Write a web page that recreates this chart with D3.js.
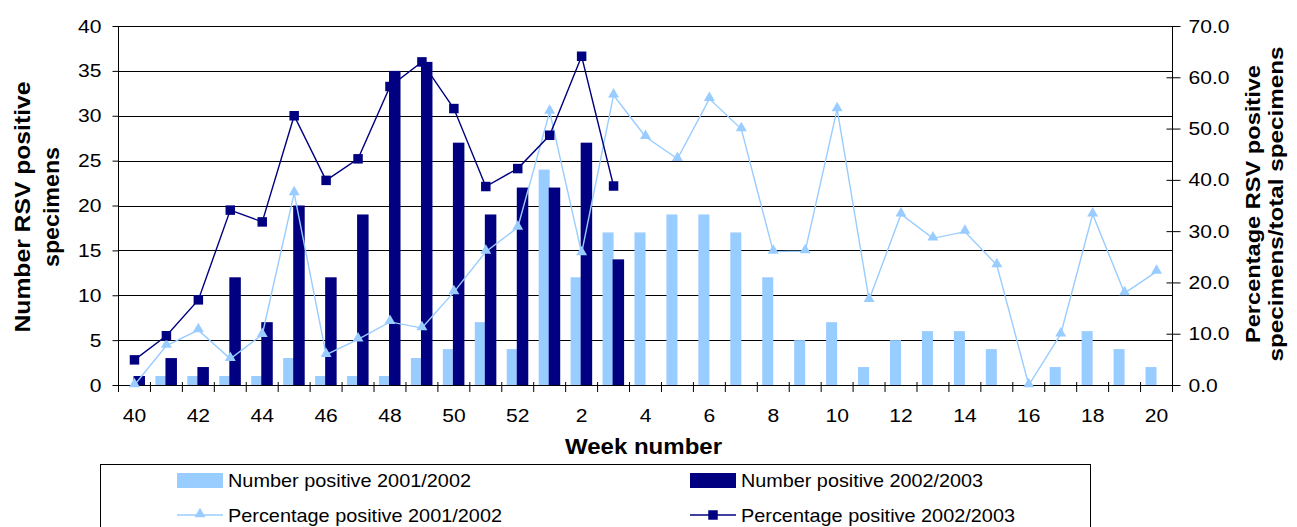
<!DOCTYPE html>
<html><head><meta charset="utf-8">
<script src="https://cdn.jsdelivr.net/npm/d3@7"></script>
<style>body{margin:0;background:#fff}svg{display:block;font-family:"Liberation Sans",Arial,sans-serif}</style>
</head><body>
<svg id="c" width="1297" height="527"></svg>
<script>
const weeks = [40,41,42,43,44,45,46,47,48,49,50,51,52,1,2,3,4,5,6,7,8,9,10,11,12,13,14,15,16,17,18,19,20];
const tickLabels = ["40","42","44","46","48","50","52","2","4","6","8","10","12","14","16","18","20"];
const numPos0102 = [0,1,1,1,1,3,1,1,1,3,4,7,4,24,12,17,17,19,19,17,12,5,7,2,5,6,6,4,0,2,6,4,2];
const numPos0203 = [1,3,2,12,7,20,12,19,35,36,27,19,22,22,27,14];
const pct0102 = [0,7.7,10.7,5.1,9.8,37.4,5.9,8.9,12.3,11.1,18.1,26.0,30.7,53.3,25.7,56.5,48.4,44.1,55.8,49.9,26.0,26.1,53.8,16.6,33.3,28.6,29.9,23.4,0,9.9,33.3,17.9,22.1];
const pct0203 = [4.9,9.6,16.6,34.1,31.8,52.5,39.9,44.1,58.2,63.0,53.9,38.7,42.2,48.7,64.1,38.8];
const leftTicks = [0,5,10,15,20,25,30,35,40];
const rightTicks = [0,10,20,30,40,50,60,70];

const LIGHT = "#99CCFF", DARK = "#000080";
const L = 118.5, R = 1172.5, T = 26, B = 385;
const svg = d3.select("#c");
const x = d3.scaleBand().domain(d3.range(weeks.length)).range([L, R]).padding(0);
const yL = d3.scaleLinear().domain([0, 40]).range([B, T]);
const yR = d3.scaleLinear().domain([0, 70]).range([B, T]);
const bw = x.bandwidth();
const cx = i => x(i) + bw / 2;

function stretch(sel, k) {
  sel.each(function () {
    const n = this.getComputedTextLength();
    d3.select(this).attr("textLength", n * k).attr("lengthAdjust", "spacingAndGlyphs");
  });
}
function fit(sel, len) {
  sel.attr("textLength", len).attr("lengthAdjust", "spacingAndGlyphs");
}

// gridlines
svg.append("g").selectAll("line").data(leftTicks.filter(d => d > 0)).join("line")
  .attr("x1", L).attr("x2", R).attr("y1", d => Math.round(yL(d)) + 0.5).attr("y2", d => Math.round(yL(d)) + 0.5)
  .attr("stroke", "#000").attr("stroke-width", 1);

// bars
svg.append("g").selectAll("rect").data(numPos0102).join("rect")
  .attr("x", (d, i) => cx(i) - bw * 0.345).attr("width", bw * 0.345)
  .attr("y", d => yL(d)).attr("height", d => B - yL(d)).attr("fill", LIGHT);
svg.append("g").selectAll("rect").data(numPos0203).join("rect")
  .attr("x", (d, i) => cx(i) - bw * 0.03).attr("width", bw * 0.36)
  .attr("y", d => yL(d)).attr("height", d => B - yL(d)).attr("fill", DARK);

// axes
const axL = svg.append("g").attr("transform", `translate(${L},0)`)
  .call(d3.axisLeft(yL).tickValues(leftTicks).tickSize(6).tickPadding(11).tickFormat(d3.format("d")));
const axR = svg.append("g").attr("transform", `translate(${R},0)`)
  .call(d3.axisRight(yR).tickValues(rightTicks).tickSize(8).tickPadding(8).tickFormat(d3.format(".1f")));
axR.selectAll(".tick line").attr("x1", -6);
const bounds = d3.range(weeks.length + 1);
const axB = svg.append("g").attr("transform", `translate(0,${B})`)
  .call(d3.axisBottom(x).tickValues(d3.range(0, weeks.length, 2)).tickSize(0).tickPadding(26)
    .tickFormat((d, i) => tickLabels[i]));
svg.append("g").selectAll("line").data(bounds).join("line")
  .attr("x1", d => L + d * bw).attr("x2", d => L + d * bw).attr("y1", B - 3).attr("y2", B + 7)
  .attr("stroke", "#000");
[axL, axR, axB].forEach(a => {
  a.selectAll(".domain").remove();
  a.selectAll("text").attr("font-size", 18).attr("fill", "#000").attr("font-family", '"Liberation Sans",Arial,sans-serif');
  a.selectAll(".tick line").attr("stroke", "#000");
});
axB.selectAll("text").attr("dy", null).attr("y", 31).attr("dominant-baseline", "central");
axL.selectAll("text").attr("dy", null).attr("dominant-baseline", "central");
axR.selectAll("text").attr("dy", null).attr("dominant-baseline", "central");
[axL, axR, axB].forEach(a => stretch(a.selectAll("text"), 1.17));
svg.append("line").attr("x1", L).attr("x2", L).attr("y1", T).attr("y2", B).attr("stroke", "#000");
svg.append("line").attr("x1", R).attr("x2", R).attr("y1", T).attr("y2", B).attr("stroke", "#000");
svg.append("line").attr("x1", L).attr("x2", R).attr("y1", B + 0.5).attr("y2", B + 0.5).attr("stroke", "#000");

// lines
const tri = d3.symbol().type(d3.symbolTriangle).size(52);
const sq = d3.symbol().type(d3.symbolSquare).size(90);
const ln = d3.line().x((d, i) => cx(i)).y(d => yR(d));
svg.append("path").attr("d", ln(pct0102)).attr("fill", "none").attr("stroke", LIGHT).attr("stroke-width", 1.4);
svg.append("g").selectAll("path").data(pct0102).join("path")
  .attr("d", tri).attr("transform", (d, i) => `translate(${cx(i)},${yR(d) - 1})`).attr("fill", LIGHT);
svg.append("path").attr("d", ln(pct0203)).attr("fill", "none").attr("stroke", DARK).attr("stroke-width", 1.4);
svg.append("g").selectAll("path").data(pct0203).join("path")
  .attr("d", sq).attr("transform", (d, i) => `translate(${cx(i)},${yR(d)})`).attr("fill", DARK);

// axis titles
fit(svg.append("text").attr("x", 643.5).attr("y", 454).attr("text-anchor", "middle")
  .attr("font-size", 22).attr("font-weight", "bold").text("Week number"), 157);
const lt = svg.append("text").attr("transform", "translate(0,207) rotate(-90)").attr("text-anchor", "middle")
  .attr("font-size", 22.5).attr("font-weight", "bold");
fit(lt.append("tspan").attr("x", 0).attr("y", 29.5).text("Number RSV positive"), 251);
fit(lt.append("tspan").attr("x", 0).attr("y", 59).text("specimens"), 120);
const rt = svg.append("text").attr("transform", "translate(0,204) rotate(-90)").attr("text-anchor", "middle")
  .attr("font-size", 21).attr("font-weight", "bold");
fit(rt.append("tspan").attr("x", 0).attr("y", 1260).text("Percentage RSV positive"), 278);
fit(rt.append("tspan").attr("x", 0).attr("y", 1283).text("specimens/total specimens"), 315);

// legend
const leg = svg.append("g");
leg.append("rect").attr("x", 100.5).attr("y", 464.5).attr("width", 990).attr("height", 80)
  .attr("fill", "#fff").attr("stroke", "#000");
const items = [
  {label: "Number positive 2001/2002", kind: "bar", color: LIGHT, x: 177, y: 480, w: 243},
  {label: "Number positive 2002/2003", kind: "bar", color: DARK, x: 690, y: 480, w: 242},
  {label: "Percentage positive 2001/2002", kind: "tri", color: LIGHT, x: 177, y: 515, w: 274},
  {label: "Percentage positive 2002/2003", kind: "sq", color: DARK, x: 690, y: 515, w: 274}
];
items.forEach(it => {
  const g = leg.append("g");
  if (it.kind === "bar") {
    g.append("rect").attr("x", it.x).attr("y", it.y - 7).attr("width", 46).attr("height", 15).attr("fill", it.color);
  } else {
    g.append("line").attr("x1", it.x).attr("x2", it.x + 46).attr("y1", it.y).attr("y2", it.y).attr("stroke", it.color).attr("stroke-width", 1.4);
    g.append("path").attr("d", it.kind === "tri" ? tri : sq).attr("transform", `translate(${it.x + 23},${it.y - (it.kind === "tri" ? 1 : 0)})`).attr("fill", it.color);
  }
  fit(g.append("text").attr("x", it.x + 51).attr("y", it.y).attr("dominant-baseline", "central")
    .attr("font-size", 18.6).text(it.label), it.w);
});
</script>
</body></html>
